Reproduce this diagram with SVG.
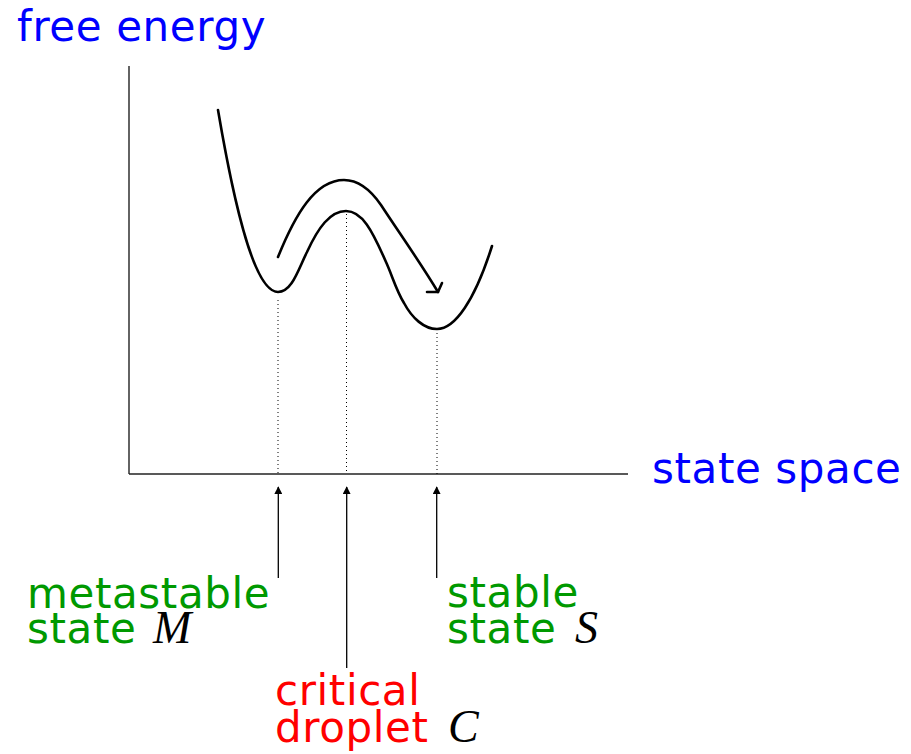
<svg xmlns="http://www.w3.org/2000/svg" width="911" height="754" viewBox="0 0 911 754">
<style>
.lbl{font-family:"DejaVu Sans","Liberation Sans",sans-serif;font-size:42px;letter-spacing:0.6px}
.blue{fill:#0000ff}
.green{fill:#009900}
.red{fill:#ff0000}
.cal{font-family:"Liberation Serif","DejaVu Serif",serif;font-style:italic;font-size:46px;fill:#000;letter-spacing:0}
.axis{stroke:#222;stroke-width:1.4;fill:none}
.curve{stroke:#000;stroke-width:2.6;fill:none;stroke-linecap:round}
.dot{stroke:#000;stroke-width:1;stroke-dasharray:1 3;fill:none}
.ptr{stroke:#000;stroke-width:1.3;fill:none}
</style>
<defs>
<marker id="ah" viewBox="0 0 10 10" refX="9" refY="5" markerWidth="8" markerHeight="8" markerUnits="userSpaceOnUse" orient="auto">
<path d="M0,0 L10,5 L0,10 z" fill="#000"/>
</marker>
</defs>
<rect width="911" height="754" fill="#fff"/>
<g id="axes">
<line class="axis" x1="129" y1="66" x2="129" y2="474"/>
<line class="axis" x1="129" y1="474" x2="628" y2="474"/>
</g>
<g id="energy-curve">
<path class="curve" d="M218,110 C235,210 255,292 278,292 C292,292 298,270 307,252 C318,228 330,211 346,211 C362,211 372,230 386,262 C392,275 396,290 404,303 C412,318 424,329 437,329 C455,329 475,300 492,246"/>
</g>
<g id="transition-arrow">
<path class="curve" d="M278,257 C295,215 315,180 344,180 C358,180 370,189 381,205 C400,234 420,262 438,292"/>
<path class="curve" stroke-width="2" d="M427,292 L438,292 L442,283" stroke-linecap="butt"/>
</g>
<g id="connectors">
<line class="dot" x1="278" y1="300" x2="278" y2="474"/>
<line class="dot" x1="346.5" y1="214" x2="346.5" y2="474"/>
<line class="dot" x1="437" y1="333" x2="437" y2="474"/>
<line class="ptr" x1="278.3" y1="578" x2="278.3" y2="487" marker-end="url(#ah)"/>
<line class="ptr" x1="346.7" y1="668" x2="346.7" y2="487" marker-end="url(#ah)"/>
<line class="ptr" x1="436.7" y1="578" x2="436.7" y2="487" marker-end="url(#ah)"/>
</g>
<g id="y-label"><text class="lbl blue" x="17" y="41">free energy</text></g>
<g id="x-label"><text class="lbl blue" x="652" y="483">state space</text></g>
<g id="metastable">
<text class="lbl green" x="27" y="608">metastable<tspan x="27" dy="35">state</tspan><tspan class="cal" x="153" dy="0">M</tspan></text>
</g>
<g id="critical">
<text class="lbl red" x="275" y="705">critical<tspan x="275" dy="37">droplet</tspan><tspan class="cal" x="448" dy="0">C</tspan></text>
</g>
<g id="stable">
<text class="lbl green" x="447" y="607">stable<tspan x="447" dy="36">state</tspan><tspan class="cal" x="575" dy="0">S</tspan></text>
</g>
</svg>
